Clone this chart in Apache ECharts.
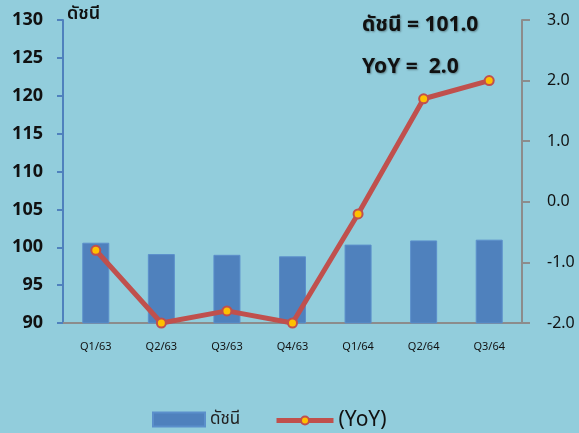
<!DOCTYPE html>
<html>
<head>
<meta charset="utf-8">
<script src="https://cdn.jsdelivr.net/npm/echarts@6/dist/echarts.min.js"></script>
<style>
html,body{margin:0;padding:0;background:#92CDDC;}
#c{width:579px;height:433px;}
</style>
</head>
<body>
<div id="c"></div>
<script>
var categories = ['Q1/63','Q2/63','Q3/63','Q4/63','Q1/64','Q2/64','Q3/64'];
var indexValues = [100.6, 99.1, 99.0, 98.8, 100.35, 100.9, 101.0];
var yoyValues = [-0.8, -2.0, -1.8, -2.0, -0.2, 1.7, 2.0];
var leftTicks = [90, 130, 5];
var rightTicks = [-2, 3, 1];
var indexName = 'ดัชนี';
var yoyName = '(YoY)';

var FONT = 'Tahoma, "Noto Sans", "Noto Sans Thai", "DejaVu Sans", sans-serif';
var chart = echarts.init(document.getElementById('c'));
var lastIdx = indexValues[indexValues.length - 1];
var lastYoy = yoyValues[yoyValues.length - 1];

chart.setOption({
  backgroundColor: '#92CDDC',
  animation: false,
  grid: {left: 63, right: 57, top: 20, bottom: 110},
  legend: [{
    data: [indexName],
    left: 147, top: 406,
    itemWidth: 52, itemHeight: 14, itemGap: 6,
    icon: 'rect',
    textStyle: {fontFamily: FONT, fontSize: 17, color: '#222'}
  }, {
    data: [yoyName],
    left: 269, top: 405,
    itemWidth: 57, itemHeight: 10,
    lineStyle: {width: 5, color: '#C0504D'},
    textStyle: {fontFamily: FONT, fontSize: 21, color: '#111'}
  }],
  xAxis: {
    type: 'category',
    data: categories,
    axisLine: {onZero: false, lineStyle: {color: '#8C8C8C', width: 2}},
    axisTick: {show: false},
    axisLabel: {color: '#111', fontSize: 11, fontFamily: FONT, margin: 18}
  },
  yAxis: [{
    type: 'value',
    min: leftTicks[0], max: leftTicks[1], interval: leftTicks[2],
    axisLine: {show: true, lineStyle: {color: '#4F81BD', width: 2}},
    axisTick: {show: true, length: 6, lineStyle: {color: '#4F81BD', width: 2}},
    splitLine: {show: false},
    axisLabel: {color: '#111', fontSize: 18, fontWeight: 'bold', fontFamily: FONT, margin: 20}
  }, {
    type: 'value',
    position: 'right',
    min: rightTicks[0], max: rightTicks[1], interval: rightTicks[2],
    axisLine: {show: true, lineStyle: {color: '#8C8C8C', width: 2}},
    axisTick: {show: true, length: 8, lineStyle: {color: '#8C8C8C', width: 2}},
    splitLine: {show: false},
    axisLabel: {color: '#111', fontSize: 16, fontFamily: FONT, margin: 25,
      formatter: function (v) { return v.toFixed(1); }}
  }],
  graphic: [{
    type: 'text', left: 67, top: 5,
    style: {text: indexName, font: '600 18px ' + FONT, fill: '#111'}
  }, {
    type: 'text', left: 362, top: 15,
    style: {text: indexName + ' = ' + lastIdx.toFixed(1), font: 'bold 21px ' + FONT, fill: '#111',
      textShadowColor: 'rgba(0,0,0,0.35)', textShadowBlur: 2, textShadowOffsetX: 1, textShadowOffsetY: 1}
  }, {
    type: 'text', left: 362, top: 57,
    style: {text: 'YoY =  ' + lastYoy.toFixed(1), font: 'bold 21px ' + FONT, fill: '#111',
      textShadowColor: 'rgba(0,0,0,0.35)', textShadowBlur: 2, textShadowOffsetX: 1, textShadowOffsetY: 1}
  }],
  series: [{
    name: indexName,
    type: 'bar',
    yAxisIndex: 0,
    data: indexValues,
    barWidth: 27,
    itemStyle: {color: '#4F81BD', borderColor: '#5B8FCB', borderWidth: 1}
  }, {
    name: yoyName,
    type: 'line',
    yAxisIndex: 1,
    data: yoyValues,
    symbol: 'circle',
    symbolSize: 9,
    lineStyle: {color: '#C0504D', width: 5},
    itemStyle: {color: '#FFC000', borderColor: '#C0504D', borderWidth: 2}
  }]
});
</script>
</body>
</html>
